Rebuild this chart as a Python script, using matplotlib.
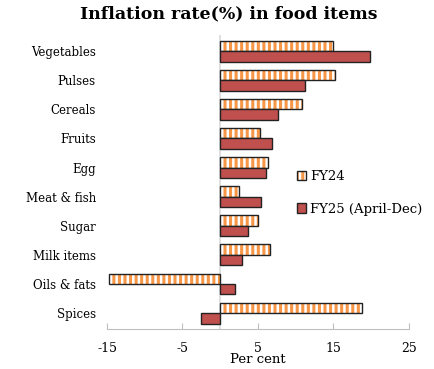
import numpy as np
import matplotlib.pyplot as plt
from matplotlib.patches import Patch

plt.rcParams['font.family'] = ['DejaVu Serif']
plt.rcParams['hatch.linewidth'] = 2.2
plt.rcParams['axes.unicode_minus'] = False

categories = ['Vegetables', 'Pulses', 'Cereals', 'Fruits', 'Egg', 'Meat & fish',
              'Sugar', 'Milk items', 'Oils & fats', 'Spices']
fy24 = [14.9, 15.2, 10.8, 5.3, 6.3, 2.5, 5.0, 6.6, -14.7, 18.8]
fy25 = [19.8, 11.2, 7.6, 6.8, 6.1, 5.4, 3.7, 2.9, 1.9, -2.5]
xticks = [-15, -5, 5, 15, 25]

orange = '#F79646'
red = '#C0504D'

fig = plt.figure(figsize=(4.35, 3.69), dpi=100)
ax = fig.add_axes([0.246, 0.108, 0.694, 0.797])

y = np.arange(len(categories))
h = 0.36
ax.barh(y - h/2, fy24, height=h, color='white', edgecolor=orange, hatch='|||', linewidth=0)
ax.barh(y - h/2, fy24, height=h, fill=False, edgecolor='#222222', linewidth=1)
ax.barh(y + h/2, fy25, height=h, color=red, edgecolor='#222222', linewidth=1)

ax.axvline(0, color='#d9d9d9', lw=1.2, zorder=0)
ax.set_xlim(-15, 25)
ax.set_ylim(len(categories) - 0.45, -0.55)
ax.set_xticks(xticks)
ax.set_yticks(y)
ax.set_yticklabels(categories, fontsize=8.5)
ax.tick_params(axis='y', length=0, pad=8)
ax.tick_params(axis='x', direction='in', length=4, color='#bfbfbf', labelsize=9, pad=9)
for s in ['top', 'right', 'left']:
    ax.spines[s].set_visible(False)
ax.spines['bottom'].set_color('#bfbfbf')
ax.set_xlabel('Per cent', fontsize=9.5, labelpad=-1)

fig.text(0.527, 0.962, 'Inflation rate(%) in food items', ha='center', va='center',
         fontsize=12.5, fontweight='bold')

h1 = (Patch(facecolor='white', edgecolor=orange, hatch='|||', linewidth=0),
      Patch(fill=False, edgecolor='#222222', linewidth=1))
h2 = Patch(facecolor=red, edgecolor='#222222', linewidth=1)
fig.legend([h1, h2], ['FY24', 'FY25 (April-Dec)'], loc='upper left',
           bbox_to_anchor=(0.655, 0.572), frameon=False, fontsize=9.5,
           handlelength=0.7, handleheight=0.7, handletextpad=0.3, labelspacing=1.5)

fig.savefig('out.png', dpi=100)
